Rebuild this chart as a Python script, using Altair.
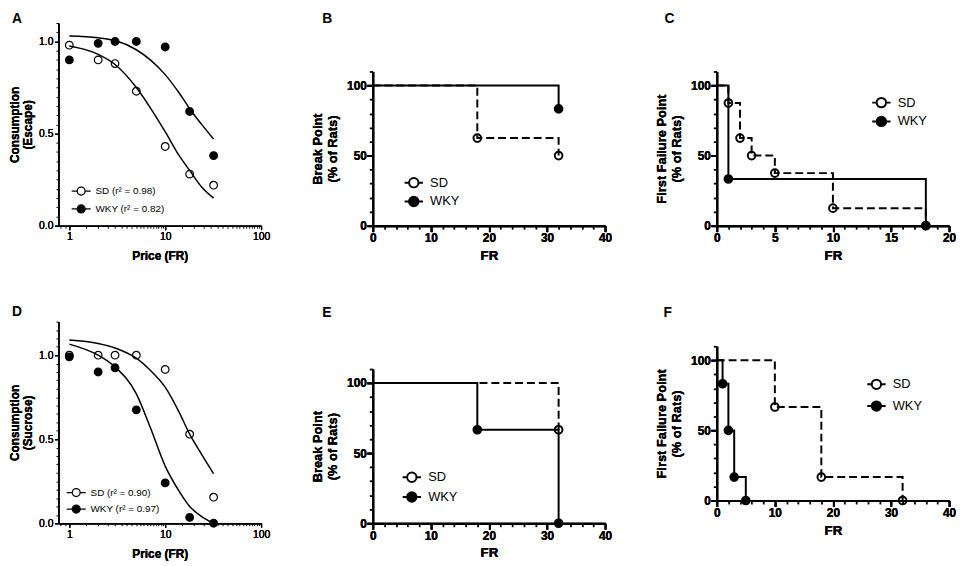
import altair as alt
import pandas as pd

FONT = "Liberation Sans"

# ---------------- Panels A & D : demand curves ----------------
price = [1, 2, 3, 5, 10, 18, 32]
esc_sd = [0.98, 0.90, 0.88, 0.73, 0.43, 0.28, 0.22]
esc_wky = [0.90, 0.99, 1.00, 1.00, 0.97, 0.62, 0.38]
suc_sd = [1.00, 1.00, 1.00, 1.00, 0.915, 0.53, 0.155]
suc_wky = [0.99, 0.90, 0.925, 0.675, 0.24, 0.035, 0.0]

fit_price = [1, 2, 3, 5, 7, 10, 14, 18, 24, 32]
esc_sd_fit = [0.975, 0.93, 0.875, 0.75, 0.64, 0.51, 0.38, 0.30, 0.21, 0.15]
esc_wky_fit = [1.03, 1.02, 1.005, 0.955, 0.90, 0.82, 0.72, 0.635, 0.55, 0.47]
suc_sd_fit = [1.09, 1.07, 1.043, 0.982, 0.91, 0.81, 0.66, 0.53, 0.41, 0.295]
suc_wky_fit = [1.066, 1.0, 0.93, 0.77, 0.57, 0.34, 0.19, 0.10, 0.04, 0.0]

# ---------------- Panels B, C, E, F : step curves ----------------
b_sd_x, b_sd_y = [0, 18, 32], [100, 62.5, 50]
b_wky_x, b_wky_y = [0, 32], [100, 83.3]
c_sd_x, c_sd_y = [0, 1, 2, 3, 5, 10, 18], [100, 87.5, 62.5, 50, 37.5, 12.5, 0]
c_wky_x, c_wky_y = [0, 1, 18], [100, 33.3, 0]
e_sd_x, e_sd_y = [0, 32], [100, 66.7]
e_wky_x, e_wky_y = [0, 18, 32], [100, 66.7, 0]
f_sd_x, f_sd_y = [0, 10, 18, 32], [100, 66.7, 16.7, 0]
f_wky_x, f_wky_y = [0, 1, 2, 3, 5], [100, 83.3, 50, 16.7, 0]

# tick positions
log_major = [1, 10, 100]
log_minor = [0.8, 0.9] + [k / 2 * 10 ** d for d in (0, 1) for k in range(3, 20)]
pct_major = [0, 50, 100]
pct_minor = [10, 20, 30, 40, 60, 70, 80, 90, 110]

SYMBOL = "M-1.95,0L-1,0M1,0L1.95,0M1,0A1,1,0,1,0,-1,0A1,1,0,1,0,1,0Z"
SYMBOL_A = "M-2.4,0L-1,0M1,0L2.4,0M1,0A1,1,0,1,0,-1,0A1,1,0,1,0,1,0Z"


def letter_title(letter, dx, dy=0):
    return alt.TitleParams(text=letter, anchor="start", frame="group", dx=dx, dy=dy, offset=-3,
                           fontSize=14, fontWeight="bold", font=FONT, color="black")


def minor_axis(values, size, width, orient, offset=0):
    return alt.Axis(values=values, labels=False, domain=False, title=None, tickSize=size,
                    tickWidth=width, tickColor="black", ticks=True, orient=orient,
                    grid=False, offset=offset)


def demand_panel(letter, sd, wky, sd_fit, wky_fit, ymax, ytitle, sd_lab, wky_lab,
                 leg_x, leg_y, leg_pad, height, title_dy=0):
    pts = pd.DataFrame({"x": price + price, "y": sd + wky,
                        "g": [sd_lab] * len(price) + [wky_lab] * len(price)})
    f_sd = pd.DataFrame({"x": fit_price, "y": sd_fit})
    f_wky = pd.DataFrame({"x": fit_price, "y": wky_fit})
    yall = [round(i * 0.05, 2) for i in range(int(round(ymax / 0.05)) + 1)]
    ymajor = [0.0, 0.5, 1.0]
    yminor = [v for v in yall if v not in ymajor]
    xs = alt.Scale(type="log", domain=[0.77, 100], nice=False)
    ys = alt.Scale(domain=[0, ymax], nice=False, zero=False)
    x = alt.X("x:Q", scale=xs,
              axis=alt.Axis(values=log_major, title="Price (FR)", orient="bottom",
                            labelFontSize=10.5, labelFontWeight="normal", titleFontSize=12,
                            titleFontWeight="bold", domainWidth=1.5, tickWidth=1.2, tickSize=4,
                            labelPadding=2, titlePadding=9, labelFlush=False,
                            labelOverlap=False, grid=False))
    y = alt.Y("y:Q", scale=ys,
              axis=alt.Axis(values=ymajor, title=ytitle, format=".1f", orient="left",
                            labelFontSize=10.5, labelFontWeight="normal", titleFontSize=12,
                            titleFontWeight="bold", titleLineHeight=13, domainWidth=1.5,
                            tickWidth=1.2, tickSize=4, labelPadding=1.5, titlePadding=4,
                            labelOverlap=False, grid=False))
    l1 = alt.Chart(f_sd).mark_line(color="black", strokeWidth=1.5, interpolate="monotone").encode(x=x, y=y)
    l2 = alt.Chart(f_wky).mark_line(color="black", strokeWidth=1.5, interpolate="monotone").encode(x=x, y=y)
    p = alt.Chart(pts).mark_point(filled=True, stroke="black", strokeWidth=1.2, size=60, opacity=1).encode(
        x=x, y=y,
        fill=alt.Fill("g:N", scale=alt.Scale(domain=[sd_lab, wky_lab], range=["transparent", "black"]),
                      legend=alt.Legend(title=None, orient="none", legendX=leg_x, legendY=leg_y,
                                        symbolType=SYMBOL_A, symbolSize=64, symbolStrokeColor="black",
                                        symbolStrokeWidth=1.3, labelFont=FONT, labelFontSize=10,
                                        labelColor="black", labelOffset=9.5, rowPadding=leg_pad,
                                        padding=0)))
    mn = alt.Chart(pts).mark_point(opacity=0).encode(
        x=alt.X("x:Q", scale=xs, axis=minor_axis(log_minor, 2.5, 1, "bottom")),
        y=alt.Y("y:Q", scale=ys, axis=minor_axis(yminor, 2.5, 1, "left")))
    return (alt.layer(l1, l2, p, mn)
            .resolve_axis(x="independent", y="independent")
            .properties(width=205, height=height, title=letter_title(letter, -47, title_dy)))


def step_panel(letter, sd_x, sd_y, wky_x, wky_y, xmax, minor, ytitle, yrange, height,
               leg_x, leg_y, leg_pad, title_dx, x_offset=0, title_dy=0):
    sd_df = pd.DataFrame({"x": sd_x, "y": sd_y})
    wky_df = pd.DataFrame({"x": wky_x, "y": wky_y})
    pts = pd.DataFrame({"x": sd_x[1:] + wky_x[1:], "y": sd_y[1:] + wky_y[1:],
                        "g": ["SD"] * (len(sd_x) - 1) + ["WKY"] * (len(wky_x) - 1)})
    major_step = 10 if xmax == 40 else 5
    xmajor = list(range(0, xmax + 1, major_step))
    xminor = [v for v in range(0, xmax + 1, minor) if v not in xmajor]
    xs = alt.Scale(domain=[0, xmax], nice=False, zero=False)
    ys = alt.Scale(domain=[0, 110], nice=False, zero=False, range=yrange)
    x = alt.X("x:Q", scale=xs,
              axis=alt.Axis(values=xmajor, title="FR", orient="bottom",
                            labelFontSize=12, labelFontWeight="bold", titleFontSize=13.5,
                            titleFontWeight="bold", domainWidth=2, tickWidth=2, tickSize=6,
                            labelPadding=1, titlePadding=5, labelFlush=False,
                            labelOverlap=False, grid=False, offset=x_offset))
    y = alt.Y("y:Q", scale=ys,
              axis=alt.Axis(values=pct_major, title=ytitle, orient="left",
                            labelFontSize=12, labelFontWeight="bold", titleFontSize=13,
                            titleFontWeight="bold", titleLineHeight=15, domainWidth=2,
                            tickWidth=2, tickSize=6, labelPadding=0.5, titlePadding=7,
                            labelOverlap=False, grid=False))
    l_sd = alt.Chart(sd_df).mark_line(color="black", strokeWidth=2, strokeDash=[8, 4],
                                      interpolate="step-after").encode(x=x, y=y)
    l_wky = alt.Chart(wky_df).mark_line(color="black", strokeWidth=2,
                                        interpolate="step-after").encode(x=x, y=y)
    p = alt.Chart(pts).mark_point(filled=True, stroke="black", strokeWidth=2, size=60, opacity=1).encode(
        x=x, y=y,
        fill=alt.Fill("g:N", scale=alt.Scale(domain=["SD", "WKY"], range=["transparent", "black"]),
                      legend=alt.Legend(title=None, orient="none", legendX=leg_x, legendY=leg_y,
                                        symbolType=SYMBOL, symbolSize=90, symbolStrokeColor="black",
                                        symbolStrokeWidth=2, labelFont=FONT, labelFontSize=13,
                                        labelColor="black", labelOffset=10, rowPadding=leg_pad,
                                        padding=0)))
    mn = alt.Chart(pts).mark_point(opacity=0).encode(
        x=alt.X("x:Q", scale=xs, axis=minor_axis(xminor, 3.5, 1.8, "bottom", x_offset)),
        y=alt.Y("y:Q", scale=ys, axis=minor_axis(pct_minor, 3.5, 1.8, "left")))
    return (alt.layer(l_sd, l_wky, p, mn)
            .resolve_axis(x="independent", y="independent")
            .properties(width=235, height=height, title=letter_title(letter, title_dx, title_dy)))


A = demand_panel("A", esc_sd, esc_wky, esc_sd_fit, esc_wky_fit, 1.1, ["Consumption", "(Escape)"],
                 "SD (r² = 0.98)", "WKY (r² = 0.82)", 18, 165, 4, 205)
B = step_panel("B", b_sd_x, b_sd_y, b_wky_x, b_wky_y, 40, 2, ["Break Point", "(% of Rats)"],
               [205, 49], 205, 35, 155, 0, -51)
C = step_panel("C", c_sd_x, c_sd_y, c_wky_x, c_wky_y, 20, 1, ["First Failure Point", "(% of Rats)"],
               [205, 49], 205, 160, 74, 0, -53)
D = demand_panel("D", suc_sd, suc_wky, suc_sd_fit, suc_wky_fit, 1.2, ["Consumption", "(Sucrose)"],
                 "SD (r² = 0.90)", "WKY (r² = 0.97)", 13, 168, 2.7, 204, title_dy=-5)
E = step_panel("E", e_sd_x, e_sd_y, e_wky_x, e_wky_y, 40, 2, ["Break Point", "(% of Rats)"],
               [204, 48], 204, 33, 151, 1, -51, title_dy=-5)
F = step_panel("F", f_sd_x, f_sd_y, f_wky_x, f_wky_y, 40, 2, ["First Failure Point", "(% of Rats)"],
               [181, 25], 204, 155, 57, 3, -54, x_offset=-23, title_dy=-5)

chart = alt.concat(A, B, C, D, E, F, columns=3, spacing={"row": 97, "column": 113},
                   bounds="flush", align="each")
chart = chart.resolve_scale(fill="independent").resolve_legend(fill="independent")
chart = chart.properties(padding=0, background="white").configure_view(stroke=None).configure_axis(
    domainColor="black", tickColor="black", labelColor="black", titleColor="black",
    labelFont=FONT, titleFont=FONT, grid=False)

chart.save("out.html", embed_options={"renderer": "svg", "actions": False})
